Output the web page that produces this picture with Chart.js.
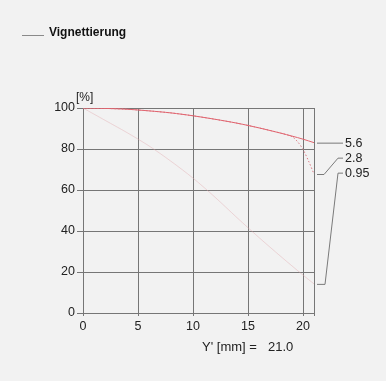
<!DOCTYPE html>
<html>
<head>
<meta charset="utf-8">
<script src="https://cdn.jsdelivr.net/npm/chart.js@4/dist/chart.umd.min.js"></script>
<style>
html,body{margin:0;padding:0;background:#f2f2f2;}
#wrap{position:relative;width:386px;height:381px;}
</style>
</head>
<body>
<div id="wrap"><canvas id="c"></canvas></div>
<script>
// ---- data ----
const legendLabel = 'Vignettierung';
const seriesNames = ['5.6', '2.8', '0.95'];
const x56 = [0, 2, 4, 6, 8, 10, 12, 14, 16, 18, 19, 20, 21];
const v56 = [100, 99.8, 99.4, 98.6, 97.6, 96.2, 94.5, 92.6, 90.3, 87.7, 86.3, 84.8, 83.1];
const x28 = [0, 2, 4, 6, 8, 10, 12, 14, 16, 18, 19, 19.5, 20, 20.5, 21];
const v28 = [100, 99.8, 99.4, 98.6, 97.6, 96.2, 94.5, 92.6, 90.3, 87.7, 86.0, 83.6, 79.8, 74.2, 67.8];
const x095 = [0, 2, 4, 6, 8, 10, 12, 14, 16, 18, 20, 21];
const v095 = [100, 94, 88, 81.5, 74, 65.8, 56.5, 46.5, 36.8, 27.5, 18.5, 14.2];
const xTicks = [0, 5, 10, 15, 20, 21];
const xTickLabels = ['0', '5', '10', '15', '20', ''];
const yTicks = [0, 20, 40, 60, 80, 100];
const yUnit = '[%]';
const xTitle = "Y' [mm] =";
const xMaxLabel = '21.0';

const FONT = "'Liberation Sans', Arial, sans-serif";
const GRID = '#767676';
const pts = (xs, vs) => xs.map((x, i) => ({x: x, y: vs[i]}));

const annot = {
  id: 'annot',
  afterDraw(chart) {
    const ctx = chart.ctx;
    const xs = chart.scales.x, ys = chart.scales.y;
    ctx.save();
    // legend
    ctx.strokeStyle = '#8a8a8a';
    ctx.lineWidth = 1;
    ctx.beginPath(); ctx.moveTo(22, 35.5); ctx.lineTo(44, 35.5); ctx.stroke();
    ctx.fillStyle = '#111';
    ctx.font = 'bold 12px ' + FONT;
    ctx.textBaseline = 'middle';
    ctx.textAlign = 'left';
    ctx.fillText(legendLabel, 49, 32.5);
    // unit
    ctx.font = '12px ' + FONT;
    ctx.fillStyle = '#222';
    ctx.fillText(yUnit, 76, 98);
    // x title
    ctx.font = '13px ' + FONT;
    ctx.fillText(xTitle, 202, 347);
    ctx.fillText(xMaxLabel, 268, 347);
    // leaders
    const xe = xs.getPixelForValue(xTicks[xTicks.length - 1]);
    const ends = [v56[v56.length - 1], v28[v28.length - 1], v095[v095.length - 1]].map(v => ys.getPixelForValue(v));
    const row0 = ends[0];
    const rows = [row0, row0 + 15, row0 + 30];
    ctx.strokeStyle = '#7a7a7a';
    ctx.lineWidth = 1;
    const line = (p) => { ctx.beginPath(); ctx.moveTo(p[0][0], p[0][1]); for (let i = 1; i < p.length; i++) ctx.lineTo(p[i][0], p[i][1]); ctx.stroke(); };
    line([[xe + 3, ends[0] + 0.5], [xe + 29, rows[0] + 0.5]]);
    line([[xe + 3, ends[1] + 0.5], [xe + 10, ends[1] + 0.5], [xe + 24, rows[1] + 0.5], [xe + 29, rows[1] + 0.5]]);
    line([[xe + 3, ends[2] + 0.5], [xe + 11, ends[2] + 0.5], [xe + 24, rows[2] + 0.5], [xe + 29, rows[2] + 0.5]]);
    ctx.fillStyle = '#222';
    ctx.font = '12.5px ' + FONT;
    seriesNames.forEach((n, i) => ctx.fillText(n, xe + 31, rows[i] + 0.5));
    ctx.restore();
  }
};

new Chart(document.getElementById('c'), {
  type: 'line',
  data: {
    datasets: [
      {label: seriesNames[2], data: pts(x095, v095), borderColor: 'rgba(225,165,170,0.4)', borderWidth: 1, pointRadius: 0, tension: 0.3, order: 3},
      {label: seriesNames[1], data: pts(x28, v28), borderColor: '#dc7a84', borderWidth: 1, borderDash: [1.5, 2], pointRadius: 0, tension: 0.3, order: 2},
      {label: seriesNames[0], data: pts(x56, v56), borderColor: '#e0646f', borderWidth: 1, pointRadius: 0, tension: 0.3, order: 1}
    ]
  },
  options: {
    responsive: true,
    maintainAspectRatio: false,
    animation: false,
    layout: {padding: {top: 108, left: 0, right: 72, bottom: 48}},
    plugins: {legend: {display: false}, tooltip: {enabled: false}},
    scales: {
      x: {
        type: 'linear', min: 0, max: 21,
        afterBuildTicks: s => { s.ticks = xTicks.map(v => ({value: v})); },
        afterFit: s => { s.height = 20; },
        ticks: {
          callback: (v) => xTickLabels[xTicks.indexOf(v)] ?? '',
          color: '#222', font: {family: FONT, size: 12.5}, padding: 3, maxRotation: 0, autoSkip: false
        },
        grid: {color: GRID, lineWidth: 1, tickLength: 3, drawTicks: true},
        border: {color: GRID}
      },
      y: {
        type: 'linear', min: 0, max: 100,
        afterBuildTicks: s => { s.ticks = yTicks.map(v => ({value: v})); },
        afterFit: s => { s.width = 83; },
        ticks: {color: '#222', font: {family: FONT, size: 12.5}, padding: 2},
        grid: {color: GRID, lineWidth: 1, tickLength: 6},
        border: {color: GRID}
      }
    }
  },
  plugins: [annot]
});
</script>
</body>
</html>
